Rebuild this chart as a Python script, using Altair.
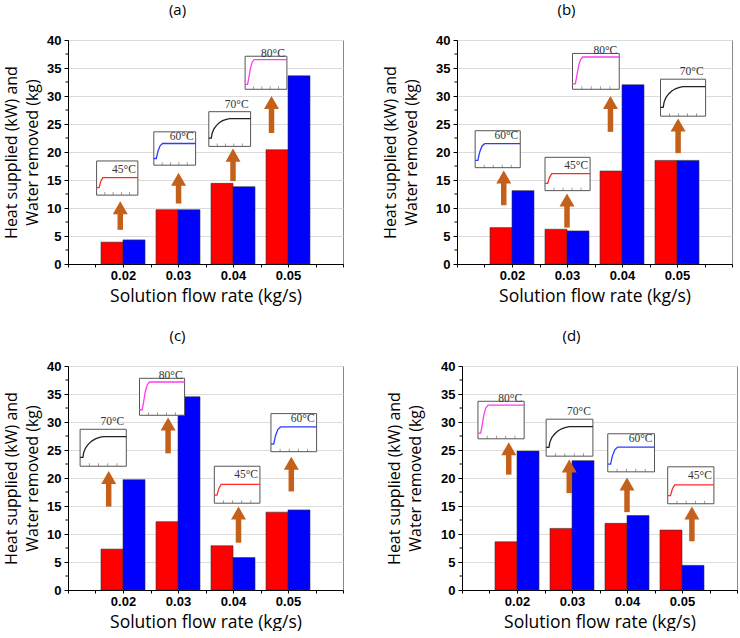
import altair as alt
import pandas as pd

# ---- data ---------------------------------------------------------------
FLOW = [0.02, 0.03, 0.04, 0.05]
PANELS = ["(a)", "(b)", "(c)", "(d)"]

HEAT_SUPPLIED = {  # kW (red bars)
    "(a)": [3.9, 9.7, 14.4, 20.4],
    "(b)": [6.5, 6.2, 16.6, 18.5],
    "(c)": [7.3, 12.2, 7.9, 13.9],
    "(d)": [8.6, 11.0, 11.9, 10.7],
}
WATER_REMOVED = {  # kg (blue bars)
    "(a)": [4.3, 9.7, 13.8, 33.6],
    "(b)": [13.1, 5.9, 32.0, 18.5],
    "(c)": [19.7, 34.5, 5.8, 14.3],
    "(d)": [24.8, 23.1, 13.3, 4.4],
}

# regeneration temperature shown in each inset, one per flow rate
INSET_TEMP = {
    "(a)": [45, 60, 70, 80],
    "(b)": [60, 45, 80, 70],
    "(c)": [70, 80, 45, 60],
    "(d)": [80, 70, 60, 45],
}
# inset frames in data units: [x0, x1, y0, y1]
INSET_BOX = {
    "(a)": [[0.0152, 0.0227, 12.3, 18.4], [0.0256, 0.0332, 17.65, 23.6],
            [0.0356, 0.0432, 21.0, 27.2], [0.0422, 0.0498, 31.2, 37.1]],
    "(b)": [[0.0133, 0.0215, 17.2, 23.8], [0.0260, 0.0342, 13.1, 19.05],
            [0.0310, 0.0395, 31.2, 37.6], [0.0470, 0.0552, 26.4, 33.0]],
    "(c)": [[0.0122, 0.0206, 22.1, 28.7], [0.0230, 0.0312, 31.2, 37.8],
            [0.0366, 0.0449, 15.5, 22.1], [0.0469, 0.0552, 24.7, 31.5]],
    "(d)": [[0.0129, 0.0213, 27.0, 33.7], [0.0253, 0.0338, 23.9, 30.5],
            [0.0365, 0.0450, 21.1, 27.9], [0.0474, 0.0558, 15.4, 22.0]],
}
# arrows: [x, y_tail, y_tip]
ARROWS = {
    "(a)": [[0.0195, 6.1, 11.2], [0.0301, 10.8, 16.3], [0.0400, 14.8, 20.6], [0.0470, 23.4, 30.0]],
    "(b)": [[0.0185, 10.5, 16.7], [0.0300, 6.5, 12.6], [0.0379, 23.6, 30.0], [0.0502, 19.8, 26.0]],
    "(c)": [[0.0174, 14.9, 21.25], [0.0282, 24.4, 30.8], [0.0410, 8.45, 14.9], [0.0506, 17.6, 23.8]],
    "(d)": [[0.0185, 20.6, 26.4], [0.0295, 17.3, 23.3], [0.0400, 13.9, 20.1], [0.0518, 8.7, 14.9]],
}

# temperature histories drawn inside the insets (normalised time, normalised level)
PROFILE_T = {
    45: [0, 0.06, 0.10, 0.15, 1],
    60: [0, 0.06, 0.10, 0.15, 0.21, 1],
    70: [0, 0.06, 0.08, 0.12, 0.18, 0.25, 0.33, 0.42, 0.50, 1],
    80: [0, 0.06, 0.09, 0.13, 0.17, 0.22, 1],
}
PROFILE_V = {
    45: [0.22, 0.22, 0.40, 0.51, 0.51],
    60: [0.20, 0.20, 0.42, 0.58, 0.65, 0.65],
    70: [0.24, 0.24, 0.38, 0.50, 0.60, 0.68, 0.74, 0.78, 0.80, 0.80],
    80: [0.15, 0.15, 0.35, 0.65, 0.82, 0.90, 0.90],
}
INSET_TICKS = [0.2, 0.4, 0.6, 0.8]

X_TICKS = [0.01, 0.015, 0.02, 0.025, 0.03, 0.035, 0.04, 0.045, 0.05, 0.055, 0.06]
Y_TICKS = [0, 5, 10, 15, 20, 25, 30, 35, 40]
Y_MINOR = [2.5, 7.5, 12.5, 17.5, 22.5, 27.5, 32.5, 37.5]

# ---- styling ------------------------------------------------------------
TEMPS = [45, 60, 70, 80]
TEMP_COLORS = ["#ff2a2a", "#2a3cff", "#222222", "#ff3cf0"]
# vertical placement of the temperature label relative to the inset top (px)
LABEL_DY = {45: 9, 60: 5, 70: -7, 80: -2}
ARROW_COLOR = "#c4601a"
BAR_W = 0.004
SANS = "Open Sans"
# gap between the y-axis title and the tick labels in each panel
Y_TITLE_PAD = {"(a)": 6, "(b)": 16, "(c)": 6, "(d)": 17}

# ---- tables -------------------------------------------------------------
bar_rows, box_rows, line_rows, tick_rows, arrow_rows = [], [], [], [], []
for p in PANELS:
    for i, f in enumerate(FLOW):
        bar_rows.append(dict(panel=p, series="Heat supplied", x0=f - BAR_W, x1=f,
                             value=HEAT_SUPPLIED[p][i]))
        bar_rows.append(dict(panel=p, series="Water removed", x0=f, x1=f + BAR_W,
                             value=WATER_REMOVED[p][i]))
        x0, x1, y0, y1 = INSET_BOX[p][i]
        temp = INSET_TEMP[p][i]
        key = f"{p}-{i}"
        box_rows.append(dict(panel=p, key=key, temp=temp, x0=x0, x1=x1, y0=y0, y1=y1,
                             label=f"{temp}°C"))
        for t, v in zip(PROFILE_T[temp], PROFILE_V[temp]):
            line_rows.append(dict(panel=p, key=key, temp=temp,
                                  x=x0 + t * (x1 - x0), y=y0 + v * (y1 - y0)))
        for t in INSET_TICKS:
            tick_rows.append(dict(panel=p, x=x0 + t * (x1 - x0), y=y0))
        ax, ay0, ay1 = ARROWS[p][i]
        arrow_rows.append(dict(panel=p, x=ax, y0=ay0, y1=ay1))

bars_df = pd.DataFrame(bar_rows)
boxes_df = pd.DataFrame(box_rows)
lines_df = pd.DataFrame(line_rows)
ticks_df = pd.DataFrame(tick_rows)
arrows_df = pd.DataFrame(arrow_rows)
minor_df = pd.DataFrame({"y": Y_MINOR})

XS = alt.Scale(domain=[0.01, 0.06], nice=False, zero=False)
YS = alt.Scale(domain=[0, 40], nice=False)

X_AXIS = alt.Axis(
    values=X_TICKS,
    labelExpr="(round(datum.value*1000) % 10 == 0 && datum.value > 0.015 && datum.value < 0.055)"
              " ? format(datum.value, '.2f') : ''",
    title="Solution flow rate (kg/s)",
    grid=False, domainColor="black", tickColor="black", tickSize=3,
    labelFont="Liberation Sans", labelFontWeight="bold", labelFontSize=13,
    labelColor="black", labelPadding=2,
    titleFont=SANS, titleFontSize=17.5, titleFontWeight="normal", titleColor="black",
    titlePadding=5,
)


def y_axis(pad):
    return alt.Axis(
        values=Y_TICKS,
        title=["Heat supplied (kW) and", "Water removed (kg)"],
        grid=True, gridColor="#dcdcdc", gridWidth=1,
        domainColor="black", tickColor="black", tickSize=4,
        labelFont="Liberation Sans", labelFontWeight="bold", labelFontSize=13,
        labelColor="black", labelPadding=3,
        titleFont=SANS, titleFontSize=16, titleFontWeight="normal", titleColor="black",
        titlePadding=pad, titleLineHeight=21,
    )


def make_panel(p):
    yax = y_axis(Y_TITLE_PAD[p])

    def X(field):
        return alt.X(field, scale=XS, axis=X_AXIS)

    def Y(field):
        return alt.Y(field, scale=YS, axis=yax)

    bars = alt.Chart(bars_df[bars_df.panel == p]).mark_rect(
        stroke="#333333", strokeWidth=0.6
    ).encode(
        x=X("x0:Q"), x2="x1:Q",
        y=Y("value:Q"), y2=alt.datum(0),
        color=alt.Color("series:N",
                        scale=alt.Scale(domain=["Heat supplied", "Water removed"],
                                        range=["#ff0000", "#0000ff"]),
                        legend=None),
    )

    minor = alt.Chart(minor_df).mark_rule(color="black", strokeWidth=1).encode(
        x=alt.value(-2.5), x2=alt.value(0),
        y=Y("y:Q"),
    )

    bsub = boxes_df[boxes_df.panel == p]
    frames = alt.Chart(bsub).mark_rect(fill="white", stroke="#555555", strokeWidth=1).encode(
        x=X("x0:Q"), x2="x1:Q",
        y=Y("y0:Q"), y2="y1:Q",
    )
    frame_ticks = alt.Chart(ticks_df[ticks_df.panel == p]).mark_tick(
        orient="vertical", size=3, thickness=0.8, color="#555555", yOffset=-1.5
    ).encode(x=X("x:Q"), y=Y("y:Q"))
    curves = alt.Chart(lines_df[lines_df.panel == p]).mark_line(strokeWidth=1.3).encode(
        x=X("x:Q"), y=Y("y:Q"),
        detail="key:N",
        stroke=alt.Stroke("temp:N", scale=alt.Scale(domain=TEMPS, range=TEMP_COLORS),
                          legend=None),
    )
    labels = [
        alt.Chart(bsub[bsub.temp == t]).mark_text(
            font="Liberation Serif", fontSize=11.5, color="#333333",
            align="right", baseline="middle", dx=-2, dy=LABEL_DY[t],
        ).encode(x=X("x1:Q"), y=Y("y1:Q"), text="label:N")
        for t in TEMPS
    ]

    asub = arrows_df[arrows_df.panel == p]
    shafts = alt.Chart(asub).mark_rule(
        color=ARROW_COLOR, strokeWidth=5.5, strokeCap="butt", y2Offset=10
    ).encode(x=X("x:Q"), y=Y("y0:Q"), y2="y1:Q")
    heads = alt.Chart(asub).mark_point(
        shape="M0,-0.87L1,0.87L-1,0.87Z", size=225, filled=True,
        color=ARROW_COLOR, opacity=1, yOffset=6.5, strokeWidth=0,
    ).encode(x=X("x:Q"), y=Y("y1:Q"))

    return alt.layer(
        bars, minor, frames, frame_ticks, curves, *labels, shafts, heads
    ).properties(
        width=275, height=224,
        title=alt.TitleParams(p, font=SANS, fontSize=15, fontWeight="normal",
                              color="black", frame="group", anchor="middle",
                              dx=-28, offset=16),
    )


row1 = alt.hconcat(make_panel("(a)"), make_panel("(b)"), spacing=38)
row2 = alt.hconcat(make_panel("(c)"), make_panel("(d)"), spacing=42)

chart = alt.vconcat(row1, row2, spacing=23).configure(
    padding={"left": 3, "top": 2, "right": 0, "bottom": 0},
    background="white",
).configure_view(stroke="#888888", strokeWidth=1)

chart.save("out.html", embed_options={"renderer": "svg", "actions": False})
